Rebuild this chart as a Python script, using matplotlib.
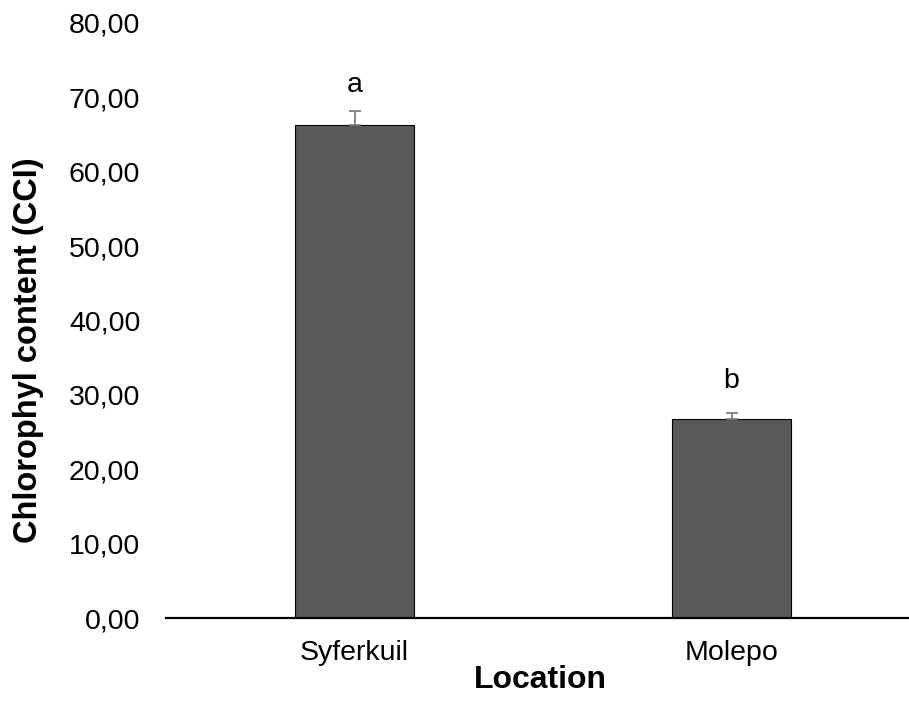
import numpy as np
import matplotlib.pyplot as plt
from matplotlib.ticker import FuncFormatter, MultipleLocator

plt.rcParams['font.family'] = ['Liberation Sans', 'DejaVu Sans']

locations = ['Syferkuil', 'Molepo']
chlorophyll = [66.3, 26.7]
std_err = [1.9, 0.8]
letters = ['a', 'b']

# gap between error bar top and the significance letter, in points
letter_gap = [13.5, 18.5]

fig = plt.figure(figsize=(9.09, 7.10), dpi=100)
fig.set_facecolor('white')
# plot area runs slightly past the right edge, as in the original sheet
ax = fig.add_axes([166 / 909, 92 / 710, 754 / 909, 595 / 710])

x = np.arange(len(locations))
bars = ax.bar(x, chlorophyll, 0.316, color='#595959', edgecolor='black', linewidth=0.8,
              zorder=2)
ax.errorbar(x, chlorophyll, yerr=[np.zeros(len(std_err)), std_err], fmt='none',
            ecolor='#7f7f7f', elinewidth=1.3, capsize=4.3, capthick=1.3, zorder=3)

for i, rect in enumerate(bars):
    top = chlorophyll[i] + std_err[i]
    ax.annotate(letters[i], xy=(x[i], top), xytext=(0, letter_gap[i]),
                textcoords='offset points', ha='center', va='baseline', fontsize=20.5)

ax.set_xlim(-0.5, 1.5)
ax.set_ylim(0, 80)
ax.yaxis.set_major_locator(MultipleLocator(10))
ax.yaxis.set_major_formatter(FuncFormatter(lambda v, pos: '{:.2f}'.format(v).replace('.', ',')))
ax.set_xticks(x)
ax.set_xticklabels(locations)

ax.tick_params(axis='y', length=0, pad=18.5, labelsize=20.5)
ax.tick_params(axis='x', length=0, pad=16, labelsize=20.5)

for side in ['top', 'right', 'left']:
    ax.spines[side].set_visible(False)
ax.spines['bottom'].set_linewidth(1.6)

fig.text(29 / 909, 360 / 710, 'Chlorophyl content (CCI)', rotation=90,
         ha='center', va='center', fontsize=23.5, fontweight='bold')
fig.text(540 / 909, 30 / 710, 'Location', ha='center', va='center',
         fontsize=23, fontweight='bold')

fig.savefig('out.png', dpi=100, facecolor='white')
